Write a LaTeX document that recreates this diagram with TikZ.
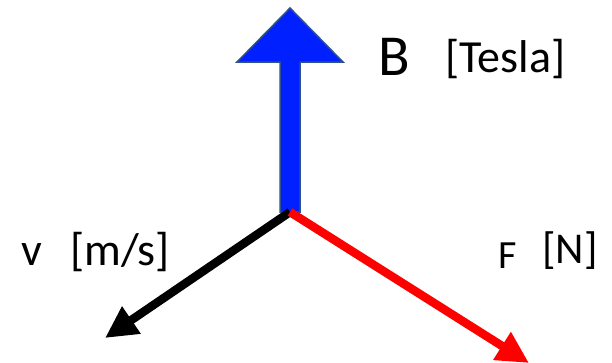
\documentclass[tikz,border=0pt]{standalone}
\usepackage{fontspec}
\setmainfont{Carlito}
\usetikzlibrary{arrows.meta}
\definecolor{bfill}{RGB}{0,32,255}
\definecolor{bline}{RGB}{47,82,143}
\definecolor{fred}{RGB}{255,0,0}
\tikzset{
  vec/.style={line width=8.5pt, -{Triangle[length=32pt,width=31pt]}},
  lbl/.style={anchor=base west, inner sep=0pt, text=black},
}
\begin{document}
\begin{tikzpicture}[x=1pt,y=-1pt]
\useasboundingbox (0,0) rectangle (612,362);
\coordinate (o) at (290,212);
\coordinate (vtip) at (105,338);
\coordinate (ftip) at (529,363);
% blue block arrow (B)
\draw[bline, line width=1.5pt, fill=bfill, line join=miter]
  (280,212) -- (280,62) -- (237,62) -- (290,8) -- (343,62) -- (300,62) -- (300,212) -- cycle;
% v and F vectors
\draw[vec, black] (o) -- (vtip);
\draw[vec, fred] (o) -- (ftip);
% labels
\node[lbl] (B) at (378,75) {\fontsize{58}{58}\selectfont B};
\node[lbl] (Bu) at (445,72) {\fontsize{46}{46}\selectfont [Tesla]};
\node[lbl] (v) at (21,265) {\fontsize{46}{46}\selectfont v};
\node[lbl] (vu) at (70,265) {\fontsize{46}{46}\selectfont [m/s]};
\node[lbl] (F) at (498,268) {\fontsize{40}{40}\selectfont F};
\node[lbl] (Fu) at (542,263) {\fontsize{44}{44}\selectfont [N]};
\end{tikzpicture}
\end{document}
